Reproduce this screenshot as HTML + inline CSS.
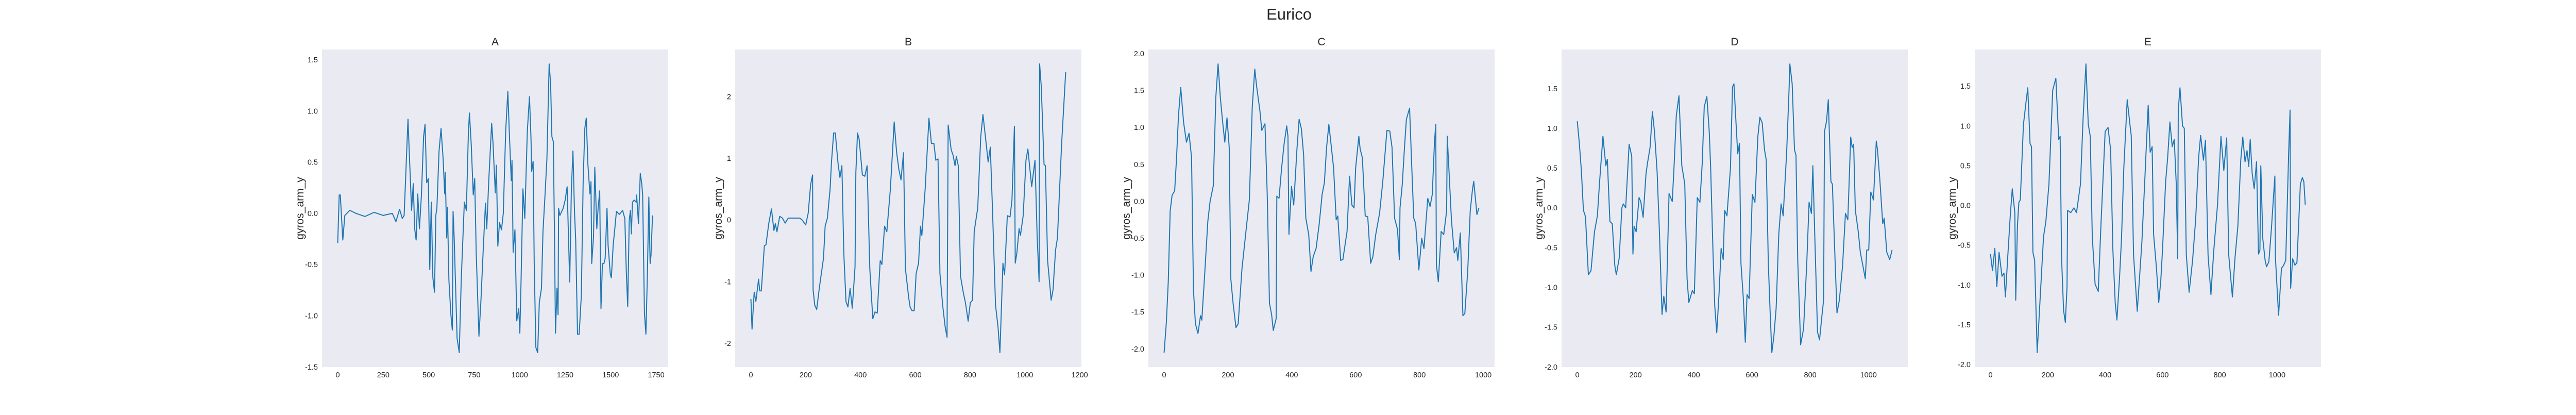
<!DOCTYPE html>
<html><head><meta charset="utf-8"><style>
html,body{margin:0;padding:0;background:#fff;}
body{width:5000px;height:800px;overflow:hidden;}
svg text{font-family:"Liberation Sans",sans-serif;fill:#262626;}
</style></head><body>
<svg id="fig" width="5000" height="800" xmlns="http://www.w3.org/2000/svg">
<text x="2502" y="38" font-size="31" text-anchor="middle">Eurico</text>
</svg>
<script>
// ---- Panel A ----
const aCount = 1731;
const aIdx = [0,8,14,28,39,66,100,150,200,250,300,320,340,355,365,372,386,395,406,415,423,431,440,449,460,472,480,489,498,506,514,523,532,539,545,557,568,579,588,591,599,603,611,622,630,634,640,656,668,679,696,707,718,724,734,745,753,761,776,787,799,812,819,830,846,853,866,872,880,889,900,910,923,935,943,954,958,964,974,984,995,1001,1008,1018,1028,1042,1054,1062,1066,1074,1080,1089,1099,1108,1120,1128,1140,1150,1162,1170,1177,1185,1191,1197,1205,1211,1214,1221,1239,1250,1261,1275,1284,1293,1301,1308,1318,1327,1339,1349,1358,1366,1375,1386,1392,1396,1406,1413,1424,1430,1440,1447,1455,1463,1470,1480,1486,1498,1504,1514,1524,1532,1548,1566,1578,1586,1594,1602,1609,1614,1620,1629,1640,1643,1653,1663,1671,1676,1686,1694,1702,1710,1717,1722,1730];
const aVal = [-0.29,0.18,0.18,-0.26,-0.02,0.03,0.0,-0.03,0.01,-0.02,0.0,-0.08,0.04,-0.05,-0.02,0.29,0.92,0.52,0.03,0.29,-0.15,-0.26,0.19,-0.15,0.18,0.75,0.87,0.30,0.34,-0.55,0.11,-0.63,-0.77,-0.02,0.05,0.61,0.83,0.54,0.19,0.40,-0.24,0.06,-0.65,-0.99,-1.14,0.02,-0.23,-1.22,-1.36,-0.64,0.11,0.03,0.78,0.98,0.67,0.18,0.34,-0.38,-1.20,-0.85,-0.38,0.10,-0.15,0.31,0.88,0.70,0.20,0.47,-0.32,-0.09,-0.16,0.00,0.80,1.19,0.80,0.32,0.52,-0.38,-0.16,-1.05,-0.93,-1.17,-0.63,0.24,-0.05,0.80,1.14,0.74,0.41,0.51,-0.49,-1.31,-1.36,-0.87,-0.73,-0.18,0.20,0.54,1.46,1.27,0.75,0.70,-0.15,-1.17,-0.73,-0.99,0.05,-0.02,0.05,0.13,0.26,-0.67,0.23,0.61,0.03,-0.26,-1.18,-1.18,-0.80,0.31,0.83,0.93,0.48,0.19,0.31,-0.49,-0.23,0.45,-0.15,0.02,0.22,-0.93,-0.49,-0.49,-0.44,0.05,-0.31,-0.59,-0.63,-0.31,-0.13,0.02,-0.01,0.03,-0.05,-0.56,-0.91,-0.07,0.03,-0.20,0.11,0.13,0.11,0.18,-0.10,0.39,0.29,0.18,-0.98,-1.18,-0.59,0.16,-0.49,-0.41,-0.02];
const aXTicks = [0,250,500,750,1000,1250,1500,1750];
const aYTicks = [-1.5,-1.0,-0.5,0.0,0.5,1.0,1.5];
const aYLabels = ["-1.5","-1.0","-0.5","0.0","0.5","1.0","1.5"];

// ---- Panel B ----
const bCount = 1150;
const bIdx = [0,4,12,18,28,32,38,49,55,65,75,84,89,95,105,115,125,136,154,178,187,200,209,218,225,227,233,240,250,265,271,279,289,294,302,308,318,325,332,339,347,354,362,370,380,383,389,395,407,416,424,434,445,453,461,472,478,488,496,509,523,532,540,548,557,564,576,581,588,596,603,612,619,624,636,650,659,668,675,683,690,700,709,716,720,731,738,745,750,757,765,775,783,793,801,809,815,828,839,847,857,866,874,882,893,902,909,920,926,936,946,953,962,965,971,979,984,994,1004,1011,1025,1037,1045,1052,1054,1060,1070,1075,1083,1096,1103,1106,1112,1119,1134,1149];
const bVal = [-1.28,-1.77,-1.17,-1.32,-0.96,-1.15,-1.15,-0.42,-0.40,-0.06,0.18,-0.17,-0.06,-0.19,0.06,0.03,-0.05,0.03,0.03,0.03,0.00,-0.08,0.11,0.58,0.73,-1.13,-1.38,-1.45,-1.09,-0.62,-0.10,0.03,0.50,0.94,1.41,1.41,0.92,0.69,0.88,-0.53,-1.32,-1.41,-1.11,-1.43,-0.76,0.77,1.41,1.31,0.73,0.71,0.88,-0.79,-1.60,-1.49,-1.51,-0.66,-0.72,-0.10,-0.19,0.50,1.59,1.09,0.82,0.65,1.09,-0.79,-1.26,-1.41,-1.47,-1.47,-0.87,-0.70,-0.10,-0.25,0.50,1.65,1.24,1.24,0.97,0.99,-0.87,-1.38,-1.73,-1.90,1.54,1.14,1.05,0.88,1.03,0.88,-0.91,-1.17,-1.34,-1.64,-1.34,-1.30,-0.19,0.20,1.35,1.71,1.31,0.94,1.18,0.15,-1.38,-1.73,-2.15,-0.70,-0.89,0.07,0.05,0.32,1.52,-0.70,-0.53,-0.14,-0.25,0.07,0.97,1.15,0.54,0.97,-0.29,-1.00,2.53,2.16,0.90,0.88,-0.66,-1.30,-1.13,-0.91,-0.49,-0.29,1.22,2.40];
const bXTicks = [0,200,400,600,800,1000,1200];
const bYTicks = [-2,-1,0,1,2];
const bYLabels = ["-2","-1","0","1","2"];

// ---- Panel C ----
const cCount = 987;
const cIdx = [0,7,13,19,25,33,39,45,52,61,70,78,86,92,98,106,114,118,127,137,144,154,162,169,176,183,190,197,204,209,216,225,232,244,258,267,276,284,290,300,306,316,323,330,337,342,351,353,360,368,376,384,388,391,399,406,416,423,430,437,444,453,460,467,476,486,495,502,509,516,523,531,539,544,553,560,573,581,588,595,600,610,614,621,630,638,647,654,663,675,685,691,698,707,714,722,731,737,739,746,753,759,769,776,782,788,798,807,814,826,833,840,847,851,853,859,868,876,885,887,894,900,909,916,920,928,936,942,951,959,966,970,975,980,986];
const cVal = [-2.05,-1.64,-1.09,-0.13,0.08,0.14,0.59,1.16,1.54,1.07,0.80,0.92,0.59,-1.20,-1.66,-1.79,-1.55,-1.61,-1.00,-0.27,0.00,0.21,1.41,1.86,1.41,1.09,0.80,1.13,0.73,-1.05,-1.38,-1.71,-1.66,-0.91,-0.34,0.02,1.27,1.79,1.55,1.23,0.96,1.05,0.09,-1.38,-1.54,-1.75,-1.59,0.07,0.04,0.45,0.78,1.02,0.88,-0.45,0.20,-0.05,0.70,1.11,0.98,0.63,-0.23,-0.45,-0.95,-0.75,-0.64,-0.30,0.09,0.25,0.73,1.04,0.77,0.45,-0.25,-0.20,-0.80,-0.79,-0.41,0.34,-0.05,-0.09,0.45,0.88,0.71,0.59,-0.20,-0.21,-0.84,-0.75,-0.45,-0.16,0.27,0.59,0.96,0.95,0.73,-0.23,-0.38,-0.79,-0.09,0.23,0.73,1.11,1.26,0.45,-0.23,-0.30,-0.93,-0.50,-0.64,0.04,-0.07,0.09,0.80,1.04,-0.86,-1.09,-0.41,-0.45,-0.13,0.88,0.27,-0.25,-0.70,-0.63,-0.80,-0.43,-1.55,-1.52,-0.95,-0.13,0.16,0.27,0.05,-0.18,-0.09];
const cXTicks = [0,200,400,600,800,1000];
const cYTicks = [-2.0,-1.5,-1.0,-0.5,0.0,0.5,1.0,1.5,2.0];
const cYLabels = ["-2.0","-1.5","-1.0","-0.5","0.0","0.5","1.0","1.5","2.0"];

// ---- Panel D ----
const dCount = 1082;
const dIdx = [0,7,14,21,28,38,47,59,69,76,88,98,103,112,120,129,134,144,153,158,166,173,178,187,191,195,202,212,218,226,236,241,250,258,265,274,282,291,297,305,315,326,332,340,349,359,369,377,383,395,402,412,421,429,436,445,453,458,466,472,479,487,494,501,506,514,526,533,538,545,551,557,562,570,577,583,590,601,610,620,627,635,643,649,656,662,668,675,683,692,700,707,719,727,730,738,746,751,757,767,777,788,796,804,809,816,825,832,840,846,849,856,862,871,876,885,892,900,911,921,929,939,944,949,955,965,972,981,989,994,1001,1008,1017,1027,1031,1039,1049,1054,1063,1073,1081];
const dVal = [1.09,0.81,0.46,-0.03,-0.11,-0.84,-0.79,-0.30,-0.10,0.30,0.90,0.53,0.61,-0.17,-0.20,-0.73,-0.84,-0.63,0.00,0.05,0.00,0.46,0.80,0.65,-0.58,-0.23,-0.30,0.13,0.08,-0.12,0.43,0.56,0.76,1.21,0.96,0.46,-0.30,-1.34,-1.11,-1.31,0.18,0.08,0.50,1.16,1.41,0.53,0.30,-0.89,-1.19,-1.04,-1.08,0.13,0.07,0.56,1.27,1.40,0.96,0.50,-0.55,-1.23,-1.57,-1.06,-0.51,-0.65,-0.03,-0.10,0.50,1.52,1.56,1.08,0.68,0.81,-0.70,-1.13,-1.69,-1.09,-1.14,0.17,0.07,0.89,1.14,1.07,0.73,0.60,-0.70,-1.29,-1.82,-1.62,-1.26,-0.33,0.05,-0.10,0.70,1.46,1.81,1.56,0.73,0.66,-0.66,-1.72,-1.52,-0.70,0.07,-0.07,0.53,-0.40,-1.56,-1.66,-1.36,-1.16,0.96,1.09,1.36,0.33,0.30,-0.63,-1.32,-1.16,-0.73,-0.07,-0.15,0.89,0.76,0.80,-0.03,-0.30,-0.56,-0.73,-0.89,-0.53,-0.53,0.20,0.10,0.84,0.73,0.36,-0.20,-0.13,-0.56,-0.65,-0.53];
const dXTicks = [0,200,400,600,800,1000];
const dYTicks = [-2.0,-1.5,-1.0,-0.5,0.0,0.5,1.0,1.5];
const dYLabels = ["-2.0","-1.5","-1.0","-0.5","0.0","0.5","1.0","1.5"];

// ---- Panel E ----
const eCount = 1099;
const eIdx = [0,7,15,22,30,40,47,52,60,69,76,85,88,94,99,104,115,124,130,138,143,148,154,163,172,185,193,204,217,228,238,243,248,255,261,267,269,280,291,300,314,323,333,341,348,355,365,376,385,390,400,410,419,427,435,441,450,457,465,477,487,491,499,512,522,528,538,550,557,564,569,579,587,594,600,611,618,626,634,641,648,653,655,661,670,676,683,693,705,716,726,733,743,750,759,769,779,792,804,814,824,831,844,853,863,873,880,888,895,901,906,913,920,928,935,940,943,950,958,963,971,980,992,994,1005,1015,1023,1030,1040,1045,1047,1054,1062,1069,1075,1081,1088,1093,1098];
const eVal = [-0.61,-0.82,-0.54,-1.02,-0.59,-0.89,-0.85,-1.15,-0.66,-0.13,0.21,-0.09,-1.19,-0.26,0.04,0.07,1.02,1.30,1.48,0.78,0.74,-0.59,-0.69,-1.85,-1.25,-0.39,-0.21,0.27,1.45,1.60,0.83,0.87,-0.66,-1.32,-1.47,-1.02,-0.06,-0.09,-0.03,-0.09,0.27,1.10,1.78,1.02,0.87,-0.39,-0.99,-1.08,-0.26,0.12,0.93,0.98,0.70,-0.56,-1.22,-1.44,-0.92,-0.42,0.47,1.33,1.00,0.88,-0.62,-1.33,-0.79,-0.47,0.30,1.26,0.67,0.74,-0.36,-0.79,-1.22,-0.95,-0.56,0.30,0.60,1.05,0.74,0.83,0.27,-0.67,1.20,1.48,1.00,0.97,-0.62,-1.09,-0.69,-0.16,0.60,0.88,0.57,0.82,-0.62,-1.12,-0.56,0.01,0.87,0.44,0.85,-0.62,-1.15,-0.66,-0.26,0.57,0.86,0.55,0.69,0.49,0.83,0.40,0.21,0.55,-0.61,-0.56,0.50,-0.42,-0.69,-0.77,-0.71,-0.29,0.37,-0.66,-1.38,-0.79,-0.75,-0.69,0.64,1.20,-1.04,-0.67,-0.75,-0.72,-0.23,0.27,0.35,0.30,0.01];
const eXTicks = [0,200,400,600,800,1000];
const eYTicks = [-2.0,-1.5,-1.0,-0.5,0.0,0.5,1.0,1.5];
const eYLabels = ["-2.0","-1.5","-1.0","-0.5","0.0","0.5","1.0","1.5"];

const NS = "http://www.w3.org/2000/svg";
const svg = document.getElementById('fig');
const PT = 96, PH = 616, PW = 672;

function mk(tag, attrs, parent) {
  const el = document.createElementNS(NS, tag);
  for (const k in attrs) el.setAttribute(k, attrs[k]);
  parent.appendChild(el);
  return el;
}

function drawPanel(key, title, left, count, idx, vals, xTicks, yTicks, yLabels, ylabOff) {
  const g = mk('g', {}, svg);
  
  
  const xm = (count - 1) * 0.05;
  const x0 = -xm, x1 = count - 1 + xm;
  const vmin = Math.min(...vals), vmax = Math.max(...vals);
  const ym = (vmax - vmin) * 0.05;
  const y0 = vmin - ym, y1 = vmax + ym;
  const sx = v => left + (v - x0) / (x1 - x0) * PW;
  const sy = v => PT + PH - (v - y0) / (y1 - y0) * PH;

  const bg = mk('rect', {x: left, y: PT, width: PW, height: PH, fill: '#eaeaf2'}, g);
  
  

  const t = mk('text', {x: left + PW / 2, y: PT - 8, 'font-size': 21, 'text-anchor': 'middle'}, g);
  t.textContent = title;
  
  

  xTicks.forEach(v => {
    if (v < x0 || v > x1) return;
    const tx = mk('text', {x: sx(v), y: PT + PH + 20, 'font-size': 14.5, 'text-anchor': 'middle'}, g);
    tx.textContent = String(v);
    
    
  });
  yTicks.forEach((v, i) => {
    if (v < y0 - 0.02 || v > y1 + 0.02) return;
    const ty = mk('text', {x: left - 8, y: sy(v) + 5, 'font-size': 14.5, 'text-anchor': 'end'}, g);
    ty.textContent = yLabels[i];
    
    
  });

  const yl = mk('text', {x: 0, y: 0, 'font-size': 21, 'text-anchor': 'middle',
    transform: 'translate(' + (left - ylabOff) + ',' + (PT + PH / 2) + ') rotate(-90)'}, g);
  yl.textContent = 'gyros_arm_y';
  
  

  let d = '';
  for (let i = 0; i < idx.length; i++) {
    d += (i ? 'L' : 'M') + sx(idx[i]).toFixed(1) + ' ' + sy(vals[i]).toFixed(1);
  }
  const line = mk('path', {d: d, fill: 'none', stroke: '#1f77b4', 'stroke-width': 2, 'stroke-linejoin': 'round'}, g);
  
  
}

drawPanel('a', 'A', 625, aCount, aIdx, aVal, aXTicks, aYTicks, aYLabels, 36);
drawPanel('b', 'B', 1427, bCount, bIdx, bVal, bXTicks, bYTicks, bYLabels, 26);
drawPanel('c', 'C', 2229, cCount, cIdx, cVal, cXTicks, cYTicks, cYLabels, 36);
drawPanel('d', 'D', 3031, dCount, dIdx, dVal, dXTicks, dYTicks, dYLabels, 37);
drawPanel('e', 'E', 3833, eCount, eIdx, eVal, eXTicks, eYTicks, eYLabels, 37);
</script>
</body></html>
